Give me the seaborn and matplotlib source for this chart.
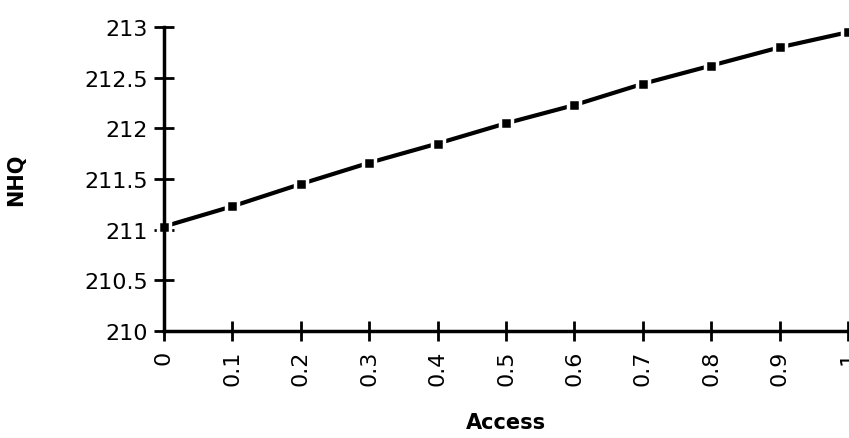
import matplotlib
matplotlib.use("Agg")
import matplotlib.pyplot as plt
import seaborn as sns
import pandas as pd

access = [0.0, 0.1, 0.2, 0.3, 0.4, 0.5, 0.6, 0.7, 0.8, 0.9, 1.0]
nhq = [211.03, 211.23, 211.45, 211.66, 211.85, 212.05, 212.23, 212.44, 212.62, 212.80, 212.95]
x_ticks = [0, 0.1, 0.2, 0.3, 0.4, 0.5, 0.6, 0.7, 0.8, 0.9, 1]
x_labels = ["0", "0.1", "0.2", "0.3", "0.4", "0.5", "0.6", "0.7", "0.8", "0.9", "1"]
y_ticks = [210, 210.5, 211, 211.5, 212, 212.5, 213]
y_labels = ["210", "210.5", "211", "211.5", "212", "212.5", "213"]

sns.set_theme(style="white")
plt.rcParams['font.family'] = ['DejaVu Sans']

df = pd.DataFrame({"Access": access, "NHQ": nhq})

fig = plt.figure(figsize=(8.49, 4.39), dpi=100)
ax = fig.add_axes([0.193, 0.244, 0.806, 0.692])

sns.lineplot(data=df, x="Access", y="NHQ", ax=ax, color="black", linewidth=3,
             marker="s", markersize=8, markerfacecolor="black",
             markeredgecolor="white", markeredgewidth=2.5, clip_on=False)

ax.set_xlim(0, 1)
ax.set_ylim(210, 213)
ax.set_xticks(x_ticks)
ax.set_xticklabels(x_labels, rotation=90, fontsize=16)
ax.set_yticks(y_ticks)
ax.set_yticklabels(y_labels, fontsize=16)

for s in ["top", "right"]:
    ax.spines[s].set_visible(False)
for s in ["left", "bottom"]:
    ax.spines[s].set_color("black")
    ax.spines[s].set_linewidth(2.5)

ax.tick_params(axis="both", which="major", bottom=True, left=True,
               direction="inout", length=15, width=2, color="black",
               labelcolor="black")
ax.tick_params(axis="y", pad=4)
ax.tick_params(axis="x", pad=6)

ax.set_xlabel("Access", fontsize=15, fontweight="bold", color="black", labelpad=19)
ax.set_ylabel("NHQ", fontsize=15, fontweight="bold", color="black", labelpad=42)
ax.grid(False)

fig.savefig("out.png", dpi=100)
